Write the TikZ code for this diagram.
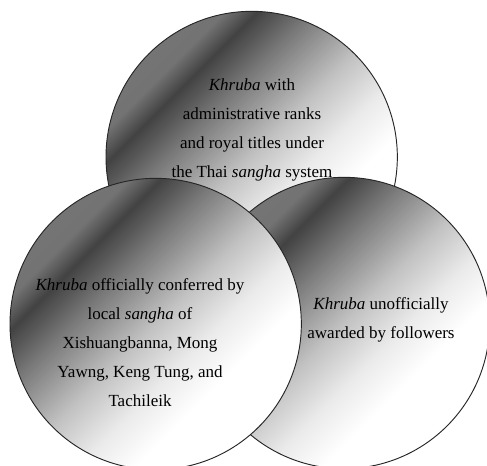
\documentclass[tikz,border=0pt]{standalone}
\usepackage{fontspec}
\setmainfont{Liberation Serif}
\pgfdeclarehorizontalshading{khrubashade}{100bp}{color(0bp)=(black!50); color(29bp)=(black!55); color(33bp)=(black!74); color(40bp)=(black!52); color(50bp)=(black!24); color(58bp)=(black!8); color(65bp)=(white); color(100bp)=(white)}

\begin{document}
\begin{tikzpicture}[
    venn/.style={draw=black!85, line width=0.8pt, shading=khrubashade, shading angle=-45},
    venntext/.style={align=center, font=\fontsize{14.5pt}{24.8pt}\selectfont}]
    \useasboundingbox (0,0) rectangle (14.61,13.98);
    %Thai sangha
    \draw[venn] (7.55,9.27) circle [radius=4.37];
    \node[venntext] (thai) at (7.56,10.08) {\textit{Khruba} with\\administrative ranks\\and royal titles under\\the Thai \textit{sangha} system};
    %followers
    \draw[venn] (10.32,4.29) circle [radius=4.37];
    \node[venntext] (followers) at (11.43,4.395) {\textit{Khruba} unofficially\\awarded by followers};
    %local sangha
    \draw[venn] (4.67,4.26) circle [radius=4.37];
    \node[venntext] (local) at (4.2,3.705) {\textit{Khruba} officially conferred by\\local \textit{sangha} of\\Xishuangbanna, Mong\\Yawng, Keng Tung, and\\Tachileik};
\end{tikzpicture}
\end{document}
